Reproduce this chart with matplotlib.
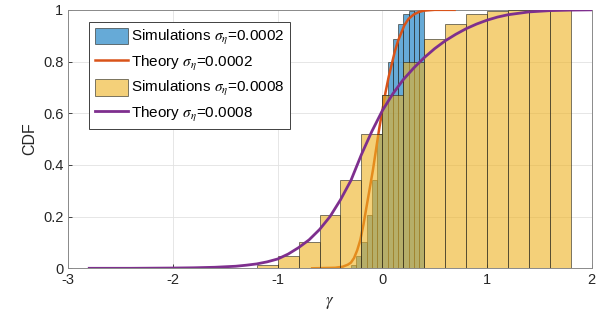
#!/usr/bin/env python3
import numpy as np
import matplotlib
matplotlib.use('Agg')
from matplotlib import pyplot as plt

plt.rcParams['font.family'] = ['Liberation Sans', 'DejaVu Sans']
plt.rcParams['mathtext.fontset'] = 'stix'

# histogram CDF, sigma_eta = 0.0002 (bin width 0.05)
sim1_edges = [-0.30, -0.25, -0.20, -0.15, -0.10, -0.05, 0.00, 0.05, 0.10, 0.15, 0.20, 0.25, 0.30, 0.35, 0.40]
sim1_cdf = [0.012, 0.047, 0.10, 0.207, 0.34, 0.52, 0.67, 0.80, 0.887, 0.945, 0.983, 0.996, 1.0, 1.0]

# histogram CDF, sigma_eta = 0.0008 (bin width 0.2)
sim2_edges = [-1.2, -1.0, -0.8, -0.6, -0.4, -0.2, 0.0, 0.2, 0.4, 0.6, 0.8, 1.0, 1.2, 1.4, 1.6, 1.8]
sim2_cdf = [0.012, 0.047, 0.10, 0.207, 0.34, 0.52, 0.67, 0.80, 0.887, 0.945, 0.983, 0.996, 1.0, 1.0, 1.0]

# theory curves
th1_x = [-0.67, -0.45, -0.38, -0.33, -0.30, -0.27, -0.24, -0.21, -0.18, -0.15, -0.12, -0.09, -0.06, -0.03,
         0.00, 0.03, 0.06, 0.09, 0.12, 0.15, 0.18, 0.21, 0.25, 0.30, 0.35, 0.40, 0.50, 0.69]
th1_y = [0.0, 0.002, 0.006, 0.014, 0.022, 0.04, 0.07, 0.11, 0.17, 0.24, 0.31, 0.38, 0.46, 0.54,
         0.61, 0.68, 0.74, 0.79, 0.84, 0.88, 0.91, 0.94, 0.965, 0.982, 0.992, 0.997, 1.0, 1.0]

th2_x = [-2.8, -2.4, -2.0, -1.8, -1.6, -1.4, -1.3, -1.2, -1.1, -1.0, -0.9, -0.8, -0.7, -0.6, -0.5, -0.4,
         -0.3, -0.2, -0.1, 0.0, 0.1, 0.2, 0.3, 0.4, 0.5, 0.6, 0.7, 0.8, 0.9, 1.0, 1.1, 1.2, 1.4, 1.6, 1.8, 2.0]
th2_y = [0.0, 0.0, 0.001, 0.002, 0.004, 0.008, 0.012, 0.017, 0.025, 0.036, 0.055, 0.08, 0.11, 0.15, 0.20, 0.265,
         0.34, 0.44, 0.53, 0.61, 0.675, 0.73, 0.775, 0.815, 0.85, 0.88, 0.905, 0.927, 0.945, 0.96, 0.972, 0.981,
         0.992, 0.997, 0.999, 1.0]

labels = [r'Simulations $\sigma_{\eta}$=0.0002', r'Theory $\sigma_{\eta}$=0.0002',
          r'Simulations $\sigma_{\eta}$=0.0008', r'Theory $\sigma_{\eta}$=0.0008']

blue = (0.0, 0.447, 0.741)
orange = (0.85, 0.325, 0.098)
yellow = (0.929, 0.694, 0.125)
purple = (0.494, 0.184, 0.556)
edge = (0.15, 0.15, 0.12)

fig = plt.figure(figsize=(6.06, 3.28), dpi=100)
ax = fig.add_axes([0.1127, 0.182, 0.8637, 0.788])

e1 = np.array(sim1_edges)
h1 = ax.bar(e1[:-1], sim1_cdf, width=np.diff(e1), align='edge', color=blue, alpha=0.6,
            edgecolor=edge, linewidth=0.7, zorder=2, label=labels[0])
l1, = ax.plot(th1_x, th1_y, color=orange, lw=1.8, zorder=3, label=labels[1])
e2 = np.array(sim2_edges)
h2 = ax.bar(e2[:-1], sim2_cdf, width=np.diff(e2), align='edge', color=yellow, alpha=0.6,
            edgecolor=edge, linewidth=0.7, zorder=4, label=labels[2])
l2, = ax.plot(th2_x, th2_y, color=purple, lw=2, zorder=5, label=labels[3])

ax.set_xlim(-3, 2)
ax.set_ylim(0, 1)
ax.set_xticks([-3, -2, -1, 0, 1, 2])
ax.set_xticklabels(['-3', '-2', '-1', '0', '1', '2'])
ax.set_yticks([0, 0.2, 0.4, 0.6, 0.8, 1])
ax.set_yticklabels(['0', '0.2', '0.4', '0.6', '0.8', '1'])
ax.tick_params(direction='in', length=3, labelsize=10.5, colors='#262626', width=0.6)
ax.grid(True, color='#e2e2e2', linewidth=0.6)
ax.set_axisbelow(True)
for s in ax.spines.values():
    s.set_color('#8a8a8a')
    s.set_linewidth(0.7)

ax.set_xlabel(r'$\gamma$', fontsize=12, color='#262626', labelpad=6)
ax.set_ylabel('CDF', fontsize=11.5, color='#262626', labelpad=4)

leg = ax.legend(handles=[h1, l1, h2, l2], loc='upper left', bbox_to_anchor=(0.04, 0.952),
                borderaxespad=0, fancybox=False, framealpha=1, edgecolor='#404040',
                fontsize=11, handlelength=2.2, handleheight=1.3, handletextpad=0.2,
                labelspacing=0.4, borderpad=0.35)
leg.get_frame().set_linewidth(0.7)
leg.set_zorder(10)

fig.savefig('out.png', dpi=100)
